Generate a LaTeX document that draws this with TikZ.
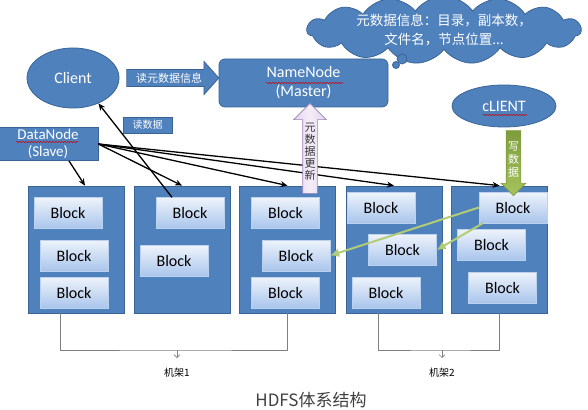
\documentclass[tikz,border=0pt]{standalone}
\usepackage{fontspec}
\usepackage{xcolor}
\usepackage{tikz}
\setmainfont{Carlito}
\newfontfamily\cjk{Noto Sans CJK SC}
\usetikzlibrary{shapes,arrows,positioning,calc,decorations.pathmorphing,arrows.meta}

\definecolor{boxblue}{HTML}{4F81BD}
\definecolor{boxedge}{HTML}{3A6496}
\definecolor{blocktop}{HTML}{EEF3FB}
\definecolor{blockbot}{HTML}{A9C5EC}
\definecolor{lilac}{HTML}{E3D3EE}
\definecolor{lilacedge}{HTML}{9C84B8}
\definecolor{grass}{HTML}{A4C35E}
\definecolor{grassdark}{HTML}{7E9C3C}

\tikzset{
  bluebox/.style={fill=boxblue, draw=boxedge, line width=0.8pt, text=white},
  rack/.style={bluebox, minimum width=96pt, minimum height=127pt, inner sep=0pt},
  blockbox/.style={rectangle, top color=blocktop, bottom color=blockbot, draw=blockbot!80!white, line width=0.4pt, minimum width=68pt, minimum height=31pt, inner sep=0pt, font=\fontsize{16}{16}\selectfont},
  link/.style={line width=1.3pt, -{Stealth[length=7pt,width=6pt]}},
  copyline/.style={draw=grass!85!white, line width=2pt, -{Latex[length=9pt,width=9pt]}},
  rackline/.style={gray, line width=0.6pt},
  squiggle/.style={red!80!black, line width=0.5pt, decorate, decoration={snake, amplitude=0.6pt, segment length=3pt}},
}

\begin{document}
\begin{tikzpicture}[x=1pt, y=-1pt]
    \useasboundingbox (0,0) rectangle (588,409);

    % Racks with blocks
    \foreach \name/\x in {rack1/76, rack2/182, rack3/287.5, rack4/394, rack5/499.5}
        \node [rack] (\name) at (\x,249.5) {};
    \foreach \name/\x/\y in {b11/68/213, b12/74/255.5, b13/74/292.5,
                             b21/190/213, b22/174/261,
                             b31/285.5/213, b32/296/255.5, b33/285.5/292.5,
                             b41/381/207.5, b42/402.5/250, b43/386/292.5,
                             b51/513/207.5, b52/491.5/244.5, b53/502.5/287.5}
        \node [blockbox] (\name) at (\x,\y) {Block};

    % Client and NameNode
    \node [bluebox, ellipse, minimum width=92pt, minimum height=60pt, font=\fontsize{16}{16}\selectfont] (client) at (73,78) {Client};
    \node [bluebox, single arrow, single arrow head extend=8pt, single arrow tip angle=96, minimum height=92pt, inner sep=3pt, font=\cjk\fontsize{11}{11}\selectfont] (getmeta) at (169,78) {读元数据信息};
    \node [bluebox, rounded corners=6pt, minimum width=169pt, minimum height=48pt, align=center, font=\fontsize{16}{19}\selectfont] (namenode) at (303.5,83) {NameNode\\(Master)};

    % Metadata cloud
    \node [bluebox, cloud, cloud puffs=15, cloud puff arc=110, aspect=5, minimum width=274pt, minimum height=55pt, inner sep=-9pt, align=center, font=\cjk\fontsize{13.5}{19}\selectfont] (metainfo) at (444,30) {元数据信息：目录，副本数，\\文件名，节点位置...};
    \node [bluebox, circle, minimum size=10pt, inner sep=0pt] (bubble1) at (402,59) {};
    \node [bluebox, circle, minimum size=7pt, inner sep=0pt] (bubble2) at (396,65) {};

    % Writing client
    \node [bluebox, ellipse, minimum width=104pt, minimum height=42pt, font=\fontsize{16}{16}\selectfont] (writer) at (504,106) {cLIENT};

    % DataNode
    \node [bluebox, minimum width=100pt, minimum height=33pt, align=center, inner sep=1pt, font=\fontsize{15}{17}\selectfont] (datanode) at (48,144) {DataNode\\(Slave)};
    \node [bluebox, minimum width=49pt, minimum height=16pt, inner sep=0pt, font=\cjk\fontsize{10}{10}\selectfont] (readlbl) at (147.5,125) {读数据};

    % Spell check marks
    \draw [squiggle] (266,83) -- (343,83);
    \draw [squiggle] (16,142) -- (78,142);
    \draw [squiggle] (483,115) -- (527,115);

    % DataNode links
    \draw [link] ([xshift=21pt]datanode.south) -- ([xshift=9pt]rack1.north);
    \foreach \r in {rack2,rack3,rack4,rack5}
        \draw [link] (datanode.east) -- (\r.north);
    \draw [link] ([xshift=-18pt]b21.north) -- (client.-45);

    % Replica copies
    \draw [copyline] (b51.west) -- (b32.east);
    \draw [copyline] ([xshift=4pt]b51.south west) -- (b42.east);

    % Update and write arrows
    \node [single arrow, shape border rotate=90, left color=lilac, right color=lilac, middle color=white!60!lilac, draw=lilacedge, line width=0.6pt, single arrow head extend=9pt, minimum height=90pt, inner sep=1.5pt, align=center, font=\cjk\fontsize{11}{12}\selectfont, text=black!80] (update) at (310,152) {元\\数\\据\\更\\新};
    \node [single arrow, shape border rotate=270, top color=grassdark, bottom color=grass, draw=grassdark, line width=0.6pt, single arrow head extend=5pt, minimum height=65pt, inner sep=1.5pt, align=center, font=\cjk\fontsize{11}{13}\selectfont, text=white] (putdata) at (513.5,159.5) {写\\数\\据};

    % Racks
    \coordinate (rackA) at (177,350);
    \coordinate (rackAend) at (177,358);
    \coordinate (rackB) at (442,350);
    \coordinate (rackBend) at (442,358);
    \draw [rackline] ([xshift=-16pt]rack1.south) |- (rackA) -| (rack3.south);
    \draw [rackline] ([xshift=-16pt]rack4.south) |- (rackB) -| (rack5.south);
    \draw [rackline, -{Straight Barb[length=3pt]}] (rackA) -- (rackAend);
    \draw [rackline, -{Straight Barb[length=3pt]}] (rackB) -- (rackBend);
    \node [inner sep=0pt, font=\cjk\fontsize{10}{10}\selectfont] (rack1lbl) at (177,373) {机架1};
    \node [inner sep=0pt, font=\cjk\fontsize{10}{10}\selectfont] (rack2lbl) at (442,373) {机架2};

    % Title
    \node [anchor=base, font=\cjk\fontsize{17}{17}\selectfont, text=black!75] (title) at (311,406) {HDFS体系结构};
\end{tikzpicture}
\end{document}
